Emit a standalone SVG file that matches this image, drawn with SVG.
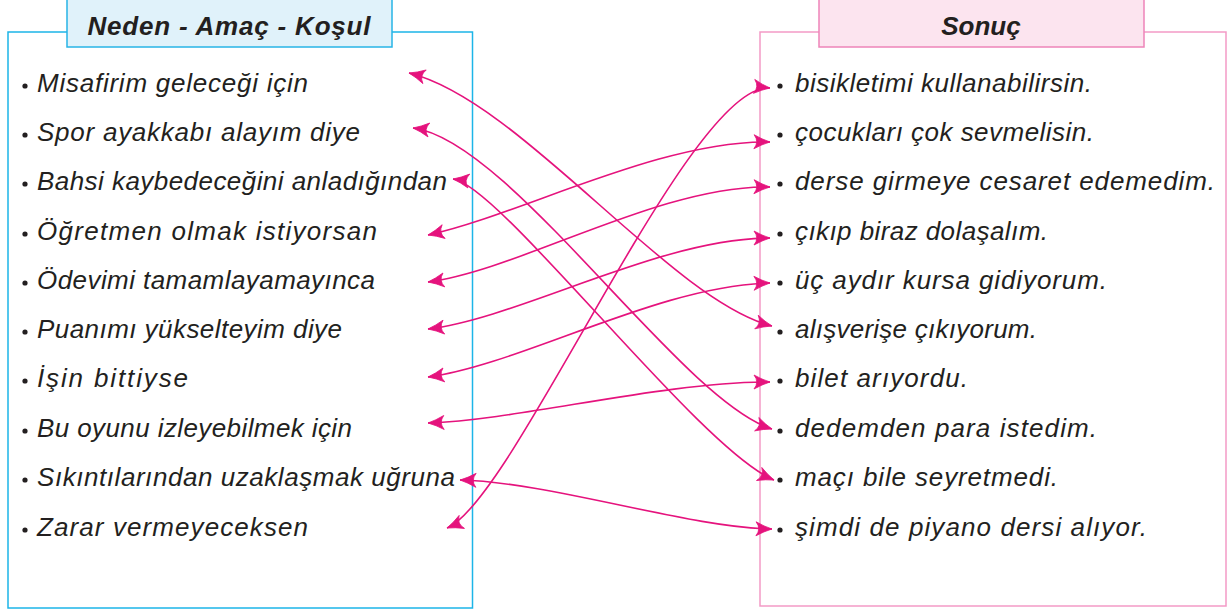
<svg xmlns="http://www.w3.org/2000/svg" width="1231" height="610" viewBox="0 0 1231 610">
<style>
.item{font-family:"Liberation Sans",Arial,sans-serif;font-style:italic;font-size:26px;fill:#231f20}
.head{font-family:"Liberation Sans",Arial,sans-serif;font-style:italic;font-weight:bold;font-size:26px;fill:#231f20;text-anchor:middle}
.dot{fill:#231f20}
.conn{fill:none;stroke:#e5137d;stroke-width:1.6;marker-start:url(#ah);marker-end:url(#ah)}
</style>
<defs>
<marker id="ah" viewBox="-18 -9 19 18" refX="0" refY="0" markerWidth="19" markerHeight="18" markerUnits="userSpaceOnUse" orient="auto-start-reverse">
<path d="M0,0 Q-8,-2.5 -16,-7 Q-10.5,0 -16,7 Q-8,2.5 0,0Z" fill="#e5137d" stroke="#e5137d" stroke-width="0.8" stroke-linejoin="round"/>
</marker>
</defs>
<rect width="1231" height="610" fill="#ffffff"/>

<g id="left-panel">
<rect x="8" y="32" width="464.5" height="576" fill="none" stroke="#1cb5e8" stroke-width="1.5"/>
<rect x="67" y="-2" width="325" height="49" fill="#e0f2fa" stroke="#27b4e6" stroke-width="1.5"/>
<text class="head" x="229" y="35" textLength="283" lengthAdjust="spacing">Neden - Amaç - Koşul</text>
</g>
<g id="right-panel">
<rect x="760" y="32" width="466" height="574" fill="none" stroke="#f39ac6" stroke-width="1.5"/>
<rect x="819" y="-2" width="325" height="49" fill="#fce4ef" stroke="#ee84b9" stroke-width="1.5"/>
<text class="head" x="981" y="35">Sonuç</text>
</g>

<g id="L1"><circle class="dot" cx="25" cy="86" r="2.6"/><text class="item" x="37" y="92" textLength="271" lengthAdjust="spacing">Misafirim geleceği için</text></g>
<g id="L2"><circle class="dot" cx="25" cy="135" r="2.6"/><text class="item" x="37" y="141" textLength="323" lengthAdjust="spacing">Spor ayakkabı alayım diye</text></g>
<g id="L3"><circle class="dot" cx="25" cy="184" r="2.6"/><text class="item" x="37" y="190" textLength="410" lengthAdjust="spacing">Bahsi kaybedeceğini anladığından</text></g>
<g id="L4"><circle class="dot" cx="25" cy="234" r="2.6"/><text class="item" x="37" y="240" textLength="340" lengthAdjust="spacing">Öğretmen olmak istiyorsan</text></g>
<g id="L5"><circle class="dot" cx="25" cy="283" r="2.6"/><text class="item" x="37" y="289" textLength="338" lengthAdjust="spacing">Ödevimi tamamlayamayınca</text></g>
<g id="L6"><circle class="dot" cx="25" cy="332" r="2.6"/><text class="item" x="37" y="338" textLength="305" lengthAdjust="spacing">Puanımı yükselteyim diye</text></g>
<g id="L7"><circle class="dot" cx="25" cy="381" r="2.6"/><text class="item" x="37" y="387" textLength="151" lengthAdjust="spacing">İşin bittiyse</text></g>
<g id="L8"><circle class="dot" cx="25" cy="431" r="2.6"/><text class="item" x="37" y="437" textLength="315" lengthAdjust="spacing">Bu oyunu izleyebilmek için</text></g>
<g id="L9"><circle class="dot" cx="25" cy="480" r="2.6"/><text class="item" x="37" y="486" textLength="418" lengthAdjust="spacing">Sıkıntılarından uzaklaşmak uğruna</text></g>
<g id="L10"><circle class="dot" cx="25" cy="530" r="2.6"/><text class="item" x="37" y="536" textLength="271" lengthAdjust="spacing">Zarar vermeyeceksen</text></g>

<g id="R1"><circle class="dot" cx="780" cy="86" r="2.6"/><text class="item" x="795" y="92" textLength="297" lengthAdjust="spacing">bisikletimi kullanabilirsin.</text></g>
<g id="R2"><circle class="dot" cx="780" cy="135" r="2.6"/><text class="item" x="795" y="141" textLength="299" lengthAdjust="spacing">çocukları çok sevmelisin.</text></g>
<g id="R3"><circle class="dot" cx="780" cy="184" r="2.6"/><text class="item" x="795" y="190" textLength="420" lengthAdjust="spacing">derse girmeye cesaret edemedim.</text></g>
<g id="R4"><circle class="dot" cx="780" cy="234" r="2.6"/><text class="item" x="795" y="240" textLength="253" lengthAdjust="spacing">çıkıp biraz dolaşalım.</text></g>
<g id="R5"><circle class="dot" cx="780" cy="283" r="2.6"/><text class="item" x="795" y="289" textLength="312" lengthAdjust="spacing">üç aydır kursa gidiyorum.</text></g>
<g id="R6"><circle class="dot" cx="780" cy="332" r="2.6"/><text class="item" x="795" y="338" textLength="242" lengthAdjust="spacing">alışverişe çıkıyorum.</text></g>
<g id="R7"><circle class="dot" cx="780" cy="381" r="2.6"/><text class="item" x="795" y="387" textLength="173" lengthAdjust="spacing">bilet arıyordu.</text></g>
<g id="R8"><circle class="dot" cx="780" cy="431" r="2.6"/><text class="item" x="795" y="437" textLength="302" lengthAdjust="spacing">dedemden para istedim.</text></g>
<g id="R9"><circle class="dot" cx="780" cy="480" r="2.6"/><text class="item" x="795" y="486" textLength="263" lengthAdjust="spacing">maçı bile seyretmedi.</text></g>
<g id="R10"><circle class="dot" cx="780" cy="530" r="2.6"/><text class="item" x="795" y="536" textLength="352" lengthAdjust="spacing">şimdi de piyano dersi alıyor.</text></g>

<g id="connectors">
<path class="conn" d="M409,73 C520,100 670,300 772,326"/>
<path class="conn" d="M413,128 C510,140 680,400 772,429"/>
<path class="conn" d="M453,179 C500,185 700,450 774,480"/>
<path class="conn" d="M428,235 C520,215 660,140 770,142"/>
<path class="conn" d="M428,282 C520,270 660,185 770,187"/>
<path class="conn" d="M428,329 C520,318 660,238 770,238"/>
<path class="conn" d="M428,377 C520,365 660,285 770,283"/>
<path class="conn" d="M428,423 C520,420 660,382 770,382"/>
<path class="conn" d="M460,480 C550,482 690,528 772,529"/>
<path class="conn" d="M447,528 C515,500 690,80 770,88"/>
</g>
</svg>
